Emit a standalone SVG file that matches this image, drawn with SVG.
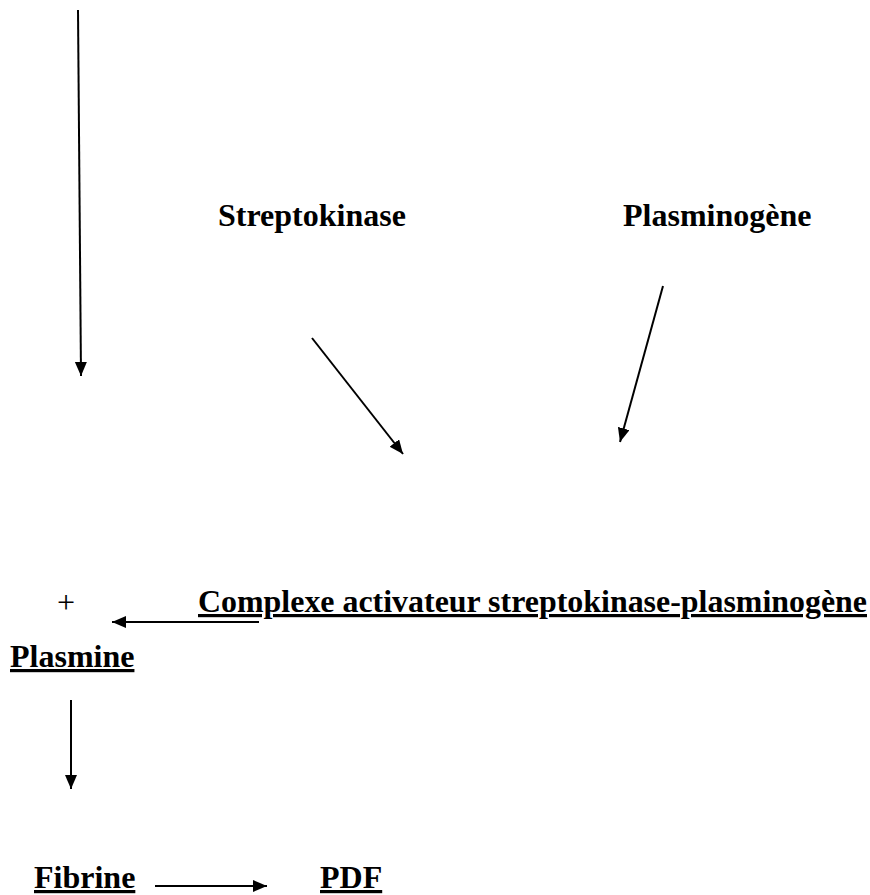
<svg xmlns="http://www.w3.org/2000/svg" width="870" height="895" viewBox="0 0 870 895">
<style>
.t{font-family:"Liberation Serif","Times New Roman",serif;font-weight:bold;fill:#000}
.u{text-decoration:underline}
.c{stroke:#000;stroke-width:2;fill:none;marker-end:url(#ah)}
</style>
<defs>
<marker id="ah" markerUnits="userSpaceOnUse" markerWidth="16" markerHeight="14" refX="14" refY="6" orient="auto">
<path d="M0,0 L14,6 L0,12 z" fill="#000"/>
</marker>
</defs>
<rect width="870" height="895" fill="#fff"/>
<g id="n-streptokinase"><text class="t" x="218" y="226" font-size="32">Streptokinase</text></g>
<g id="n-plasminogene"><text class="t" x="623" y="226" font-size="32">Plasminogène</text></g>
<g id="n-plus"><text x="57" y="613" font-size="32" font-family="Liberation Serif, serif">+</text></g>
<g id="n-complexe"><text class="t u" x="198" y="612" font-size="32" textLength="669" lengthAdjust="spacingAndGlyphs">Complexe activateur streptokinase-plasminogène</text></g>
<g id="n-plasmine"><text class="t u" x="10" y="667" font-size="32">Plasmine</text></g>
<g id="n-fibrine"><text class="t u" x="34" y="888" font-size="32">Fibrine</text></g>
<g id="n-pdf"><text class="t u" x="320" y="888" font-size="32">PDF</text></g>
<g id="connectors">
<line class="c" x1="78" y1="10" x2="81" y2="376"/>
<line class="c" x1="312" y1="338" x2="403" y2="454"/>
<line class="c" x1="663" y1="286" x2="620" y2="442"/>
<line class="c" x1="259" y1="622" x2="112" y2="622"/>
<line class="c" x1="71" y1="700" x2="71" y2="789"/>
<line class="c" x1="155" y1="886" x2="267" y2="886"/>
</g>
</svg>
